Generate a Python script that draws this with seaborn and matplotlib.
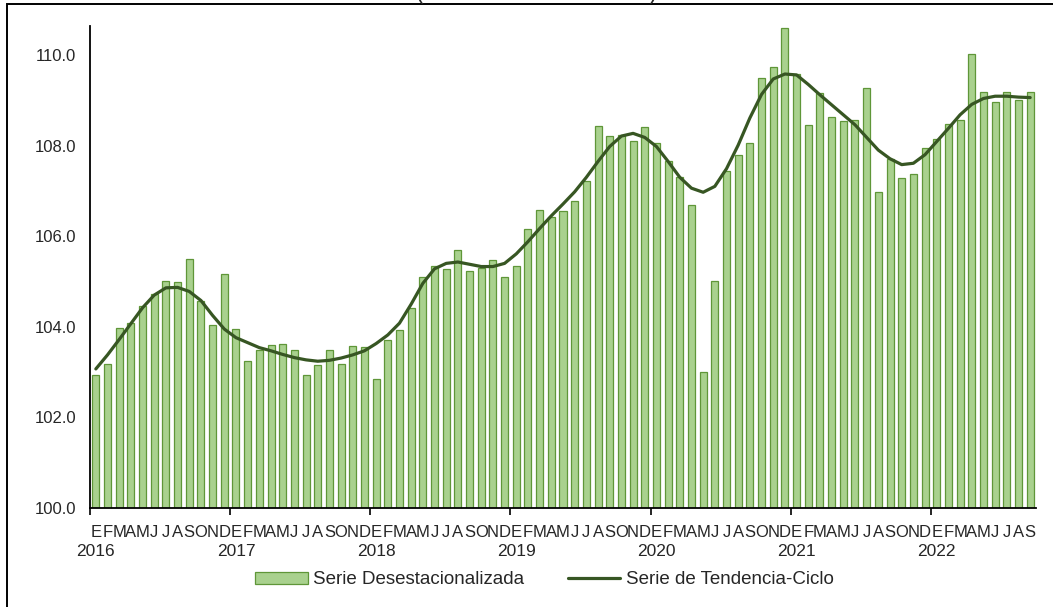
import numpy as np
import pandas as pd
import matplotlib
matplotlib.use('Agg')
import matplotlib.pyplot as plt
from matplotlib.patches import Rectangle, Patch
from matplotlib.lines import Line2D
from matplotlib.transforms import blended_transform_factory
import seaborn as sns

# --- data: monthly series, Jan 2016 - Sep 2022 ---
years = ['2016', '2017', '2018', '2019', '2020', '2021', '2022']
month_letters = ['E', 'F', 'M', 'A', 'M', 'J', 'J', 'A', 'S', 'O', 'N', 'D']

desestacionalizada = [
    # 2016
    102.94, 103.18, 103.97, 104.08, 104.46, 104.72, 105.02, 104.98, 105.50, 104.57, 104.03, 105.17,
    # 2017
    103.95, 103.24, 103.48, 103.59, 103.62, 103.48, 102.94, 103.16, 103.48, 103.18, 103.57, 103.55,
    # 2018
    102.84, 103.71, 103.92, 104.42, 105.09, 105.34, 105.28, 105.69, 105.24, 105.29, 105.47, 105.09,
    # 2019
    105.34, 106.16, 106.58, 106.43, 106.56, 106.78, 107.22, 108.44, 108.21, 108.24, 108.10, 108.41,
    # 2020
    108.06, 107.67, 107.30, 106.69, 103.00, 105.02, 107.45, 107.79, 108.05, 109.50, 109.74, 110.59,
    # 2021
    109.57, 108.45, 109.15, 108.64, 108.54, 108.57, 109.28, 106.98, 107.71, 107.29, 107.37, 107.95,
    # 2022
    108.15, 108.47, 108.56, 110.03, 109.19, 108.96, 109.19, 109.01, 109.19,
]

tendencia_ciclo = [
    # 2016
    103.07, 103.38, 103.72, 104.07, 104.42, 104.70, 104.86, 104.87, 104.78, 104.58, 104.25, 103.95,
    # 2017
    103.76, 103.65, 103.54, 103.47, 103.39, 103.32, 103.27, 103.24, 103.26, 103.31, 103.38, 103.47,
    # 2018
    103.63, 103.82, 104.08, 104.50, 104.96, 105.28, 105.40, 105.43, 105.38, 105.33, 105.33, 105.40,
    # 2019
    105.61, 105.88, 106.17, 106.45, 106.71, 106.98, 107.30, 107.65, 107.98, 108.21, 108.27, 108.18,
    # 2020
    107.98, 107.65, 107.30, 107.06, 106.97, 107.10, 107.49, 108.01, 108.61, 109.13, 109.47, 109.58,
    # 2021
    109.56, 109.35, 109.12, 108.90, 108.68, 108.46, 108.18, 107.90, 107.71, 107.58, 107.61, 107.80,
    # 2022
    108.09, 108.38, 108.68, 108.91, 109.04, 109.09, 109.09, 109.07, 109.06,
]

n = len(desestacionalizada)
df = pd.DataFrame({
    'idx': np.arange(n),
    'desest': desestacionalizada,
    'tend': tendencia_ciclo,
})
labels = [month_letters[i % 12] for i in range(n)]

bar_face = '#a9d18e'
bar_edge = '#5f9638'
line_col = '#375623'

sns.set_theme(style='white')
plt.rcParams['font.family'] = ['Liberation Sans', 'DejaVu Sans']

fig = plt.figure(figsize=(10.53, 6.07), dpi=100)
ax = fig.add_axes([90 / 1053, 1 - 508 / 607, 946 / 1053, (508 - 26) / 607])

sns.barplot(data=df, x='idx', y='desest', ax=ax, color=bar_face,
            edgecolor=bar_edge, linewidth=0.9, width=0.6, saturation=1)
sns.lineplot(data=df, x='idx', y='tend', ax=ax, color=line_col, linewidth=2.3)

ax.set_ylim(100, 110.64)
ax.set_xlim(-0.5, n - 0.5)
yt = np.arange(100, 110.1, 2)
ax.set_yticks(yt)
ax.set_yticklabels([f'{v:.1f}' for v in yt], fontsize=12)
ax.set_xlabel('')
ax.set_ylabel('')

# month letters under each bar, year ticks at the boundaries
ax.set_xticks(np.arange(n))
ax.set_xticklabels(labels, fontsize=12, family=['Liberation Sans Narrow', 'Liberation Sans'])
ax.set_xticks(np.arange(-0.5, n, 12), minor=True)
ax.tick_params(axis='x', which='major', length=0, pad=12)
ax.tick_params(axis='x', which='minor', length=5, width=1.2, color='black', direction='out', bottom=True)
ax.tick_params(axis='y', length=0, pad=10)

trans = blended_transform_factory(ax.transData, fig.transFigure)
for k, yr in enumerate(years):
    ax.text(k * 12, 1 - 552 / 607, yr, transform=trans, ha='center', va='center', fontsize=12.5)

for side in ['top', 'right']:
    ax.spines[side].set_visible(False)
for side in ['left', 'bottom']:
    ax.spines[side].set_color('black')
    ax.spines[side].set_linewidth(1.3)
ax.grid(False)

# legend
handles = [Patch(facecolor=bar_face, edgecolor=bar_edge, linewidth=0.9),
           Line2D([0], [0], color=line_col, linewidth=2.3)]
fig.legend(handles, ['Serie Desestacionalizada', 'Serie de Tendencia-Ciclo'],
           loc='center', bbox_to_anchor=(0.517, 1 - 580 / 607), ncol=2, frameon=False,
           fontsize=13.5, handlelength=2.8, handleheight=0.6, handletextpad=0.3, columnspacing=2.3)

# title mostly cut off by the top of the picture, and the outer frame
fig.text(0.510, 1 + 1 / 607, '(Índice base 2013=100)', ha='center', va='baseline', fontsize=16.5)
fig.patches.append(Rectangle((7 / 1053, -0.05), 1.1, 1.05 - 4 / 607, transform=fig.transFigure,
                             fill=False, edgecolor='black', linewidth=1.4, clip_on=False))

fig.savefig('out.png', dpi=100)
